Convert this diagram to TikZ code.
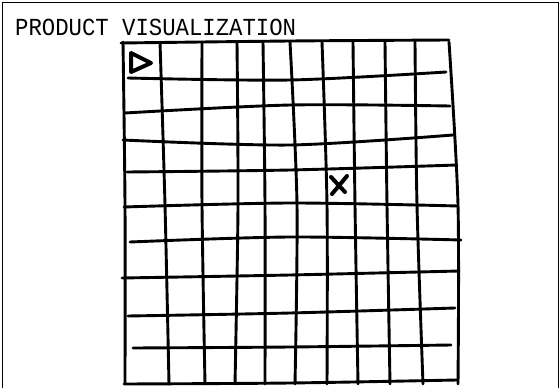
\documentclass[tikz,border=0pt]{standalone}
\usepackage{fontspec}
\newfontfamily\sketchmono{Liberation Mono}
\begin{document}
\begin{tikzpicture}[
        x=1pt, y=-1pt,
        frame/.style={line width=1.6pt},
        sketch/.style={line width=2.9pt, line cap=round, line join=round},
        marker/.style={line width=4pt, line cap=round, line join=round},
        title/.style={font=\sketchmono\fontsize{24.5}{26}\selectfont, inner sep=0pt, anchor=base west}
    ]
        \useasboundingbox (0,0) rectangle (560,388);

        % Frame (left, top, right)
        \draw[frame] (2.5,388) -- (2.5,2.5) -- (558.5,2.5) -- (558.5,388);

        % Title
        \node[title, xscale=0.91, transform shape] (title) at (15,35) {PRODUCT VISUALIZATION};

        % Vertical lines: top x / middle x / bottom x
        \foreach \t/\m/\b in {123/125/125, 160/165/169, 202/202/205, 237/238/235,
                              263/265/265, 290/297/295, 322/327/327, 353/355/358,
                              385/387/390, 415/417/423, 449/458/458} {
            \draw[sketch] plot[smooth] coordinates {(\t,42) (\m,205) (\b,384)};
        }

        % Horizontal lines: left x / left y / middle y / right y / right x
        \foreach \xl/\l/\m/\r/\xr in {121/43/41/40/449, 128/78/80/72/446,
                                      125/113/105/106/450, 123/140/145/135/453,
                                      127/172/170/165/457, 124/207/203/206/458,
                                      130/242/237/240/461, 122/278/275/271/459,
                                      128/316/313/308/455, 133/348/347/345/451,
                                      124/384/383/380/457} {
            \draw[sketch] plot[smooth] coordinates {(\xl,\l) (290,\m) (\xr,\r)};
        }

        % Start marker
        \draw[marker] (131,53) -- (151,63) -- (131,72) -- cycle;

        % Target marker
        \draw[marker] (331,177) -- (345,192);
        \draw[marker] (332,194) -- (347,176);
    \end{tikzpicture}
\end{document}
